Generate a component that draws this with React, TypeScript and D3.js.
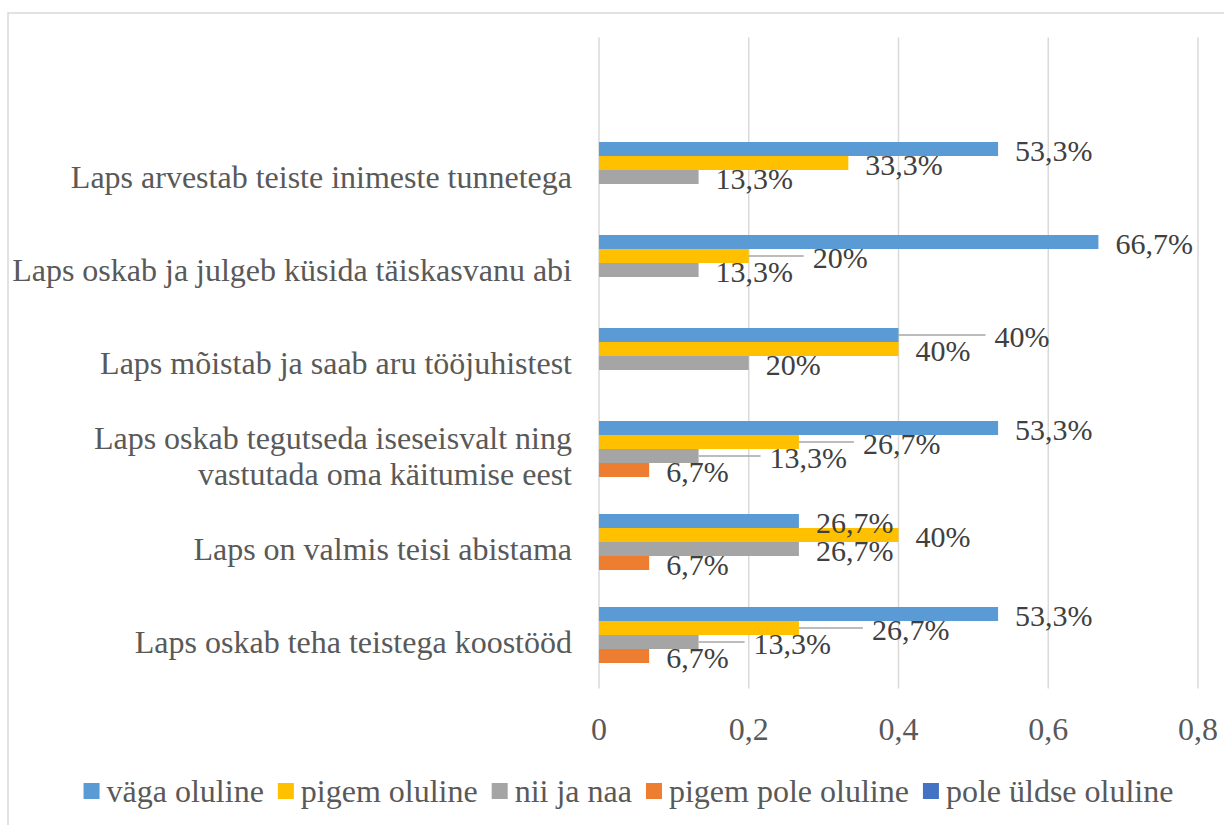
import React, {useEffect, useRef} from 'react';
import * as d3 from 'd3';

// categories top to bottom, '\n' marks a wrapped label
const categories = [
  'Laps arvestab teiste inimeste tunnetega',
  'Laps oskab ja julgeb küsida täiskasvanu abi',
  'Laps mõistab ja saab aru tööjuhistest',
  'Laps oskab tegutseda iseseisvalt ning\nvastutada oma käitumise eest',
  'Laps on valmis teisi abistama',
  'Laps oskab teha teistega koostööd',
];

const seriesNames = [
  'väga oluline',
  'pigem oluline',
  'nii ja naa',
  'pigem pole oluline',
  'pole üldse oluline',
];

// values in percent, null = no answer given
const vagaOluline = [53.3, 66.7, 40, 53.3, 26.7, 53.3];
const pigemOluline = [33.3, 20, 40, 26.7, 40, 26.7];
const niiJaNaa = [13.3, 13.3, 20, 13.3, 26.7, 13.3];
const pigemPoleOluline = [null, null, null, 6.7, 6.7, 6.7];
const poleYldseOluline = [null, null, null, null, null, null];

const xTicks = [0, 0.2, 0.4, 0.6, 0.8];

const seriesColors = ['#5B9BD5', '#FFC000', '#A5A5A5', '#ED7D31', '#4472C4'];

// labels that were dragged away from the bar end (px to the right)
const labelShift = [
  [0, 0, 0, 0, 0],
  [0, 47, 0, 0, 0],
  [79, 0, 0, 0, 0],
  [0, 47, 54, 0, 0],
  [0, 0, 0, 0, 0],
  [0, 56, 38, 0, 0],
];

const FONT = '"Liberation Serif", "Times New Roman", serif';

function fmt(v: number) {
  return String(v).replace('.', ',') + '%';
}

export default function App() {
  const ref = useRef<SVGSVGElement>(null);

  useEffect(() => {
    const svg = d3.select(ref.current);
    svg.selectAll('*').remove();

    const series = [vagaOluline, pigemOluline, niiJaNaa, pigemPoleOluline, poleYldseOluline];

    const x = d3.scaleLinear().domain([0, 0.8]).range([599, 1198]);
    // one empty slot on top, like the original
    const y = d3.scaleBand<string>()
        .domain(['', ...categories])
        .range([37.5, 688.5]);
    const yInner = d3.scaleBand<string>()
        .domain(seriesNames)
        .range([11.5, y.bandwidth() - 11.5]);

    // chart border
    svg.append('rect')
        .attr('x', 8).attr('y', 13)
        .attr('width', 1240).attr('height', 840)
        .attr('fill', 'none')
        .attr('stroke', '#D9D9D9')
        .attr('stroke-width', 1.5);

    // gridlines
    svg.append('g')
        .selectAll('line')
        .data(xTicks)
        .join('line')
        .attr('x1', (d) => x(d)).attr('x2', (d) => x(d))
        .attr('y1', 37.5).attr('y2', 688.5)
        .attr('stroke', '#D9D9D9')
        .attr('stroke-width', 1.5);

    // tick labels
    svg.append('g')
        .selectAll('text')
        .data(xTicks)
        .join('text')
        .attr('x', (d) => x(d))
        .attr('y', 740)
        .attr('text-anchor', 'middle')
        .attr('font-family', FONT)
        .attr('font-size', 32)
        .attr('fill', '#595959')
        .text((d) => String(d).replace('.', ','));

    const bars = svg.append('g');
    const leaders = svg.append('g');
    const labels = svg.append('g');

    categories.forEach((cat, ci) => {
      const y0 = y(cat) as number;
      series.forEach((vals, si) => {
        const v = vals[ci];
        if (v === null) return;
        const yb = y0 + (yInner(seriesNames[si]) as number);
        const h = yInner.bandwidth();
        const xe = x(v / 100);
        bars.append('rect')
            .attr('x', x(0))
            .attr('y', yb)
            .attr('width', xe - x(0))
            .attr('height', h)
            .attr('fill', seriesColors[si]);

        const shift = labelShift[ci][si];
        const tx = xe + 17 + shift;
        const cy = yb + h / 2;
        if (shift > 20) {
          leaders.append('line')
              .attr('x1', xe).attr('x2', tx - 9)
              .attr('y1', cy).attr('y2', cy)
              .attr('stroke', '#A6A6A6')
              .attr('stroke-width', 1.5);
        }
        labels.append('text')
            .attr('x', tx)
            .attr('y', cy + 12)
            .attr('font-family', FONT)
            .attr('font-size', 30)
            .attr('fill', '#404040')
            .text(fmt(v));
      });

      // category label
      const lines = cat.split('\n');
      const cy = y0 + y.bandwidth() / 2;
      const lh = 36;
      const t = svg.append('text')
          .attr('text-anchor', 'end')
          .attr('font-family', FONT)
          .attr('font-size', 32)
          .attr('fill', '#595959');
      lines.forEach((ln, li) => {
        t.append('tspan')
            .attr('x', 572)
            .attr('y', cy + 11 + (li - (lines.length - 1) / 2) * lh)
            .text(ln);
      });
    });

    // legend, centered under the chart
    const legend = svg.append('g');
    const items = seriesNames.map((name, i) => {
      const g = legend.append('g');
      g.append('rect')
          .attr('width', 16).attr('height', 16)
          .attr('y', 783)
          .attr('fill', seriesColors[i]);
      const txt = g.append('text')
          .attr('x', 23)
          .attr('y', 801.5)
          .attr('font-family', FONT)
          .attr('font-size', 32)
          .attr('fill', '#595959')
          .text(name);
      const w = (txt.node() as SVGTextElement).getComputedTextLength();
      return {g, w: 23 + w};
    });
    const gap = 14;
    const total = d3.sum(items, (d) => d.w) + gap * (items.length - 1);
    let cx = 628.5 - total / 2;
    items.forEach((it) => {
      it.g.attr('transform', `translate(${cx},0)`);
      cx += it.w + gap;
    });
  }, []);

  return (
    <div>
      <style>{'body{margin:0;}'}</style>
      <svg ref={ref} width={1224} height={825}
        style={{display: 'block', background: '#fff'}} />
    </div>
  );
}
